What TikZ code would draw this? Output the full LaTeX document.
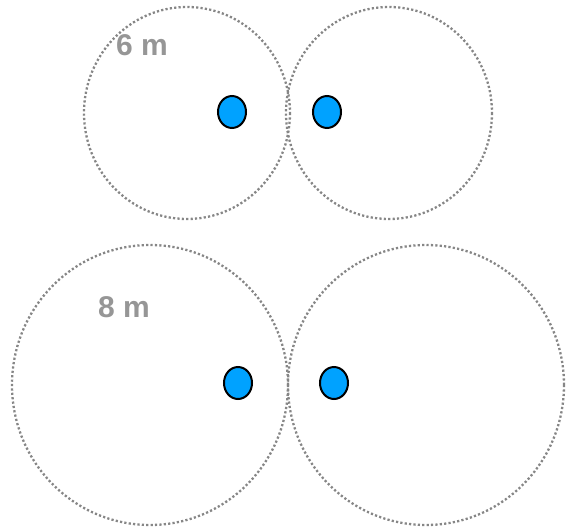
\documentclass[tikz,border=0pt]{standalone}
\usepackage{fontspec}
\setmainfont{Liberation Sans}
\usetikzlibrary{shapes.geometric}
\definecolor{rangegray}{HTML}{868686}
\definecolor{labelgray}{HTML}{969696}
\definecolor{sensorblue}{HTML}{00A2FF}

\begin{document}
\begin{tikzpicture}[x=1pt,y=-1pt,
  reach/.style={draw=rangegray, line width=2.3pt, dash pattern=on 2.2pt off 2.2pt},
  sensor/.style={ellipse, draw=black, line width=2pt, fill=sensorblue,
    minimum width=28pt, minimum height=32pt, inner sep=0pt},
  dist/.style={text=labelgray, font=\fontsize{30}{36}\selectfont\bfseries}]
\useasboundingbox (0,0) rectangle (573,530);
% 6 m pair
\draw[reach] (187,113) ellipse (103 and 106);
\draw[reach] (389,113) ellipse (103 and 106);
\node[dist] (six) at (142,45) {6 m};
\node[sensor] (a1) at (232,112) {};
\node[sensor] (a2) at (327,112) {};
% 8 m pair
\draw[reach] (150,385) ellipse (138 and 140);
\draw[reach] (426,385) ellipse (138 and 140);
\node[dist] (eight) at (124,307) {8 m};
\node[sensor] (b1) at (238,383) {};
\node[sensor] (b2) at (334,383) {};
\end{tikzpicture}
\end{document}
